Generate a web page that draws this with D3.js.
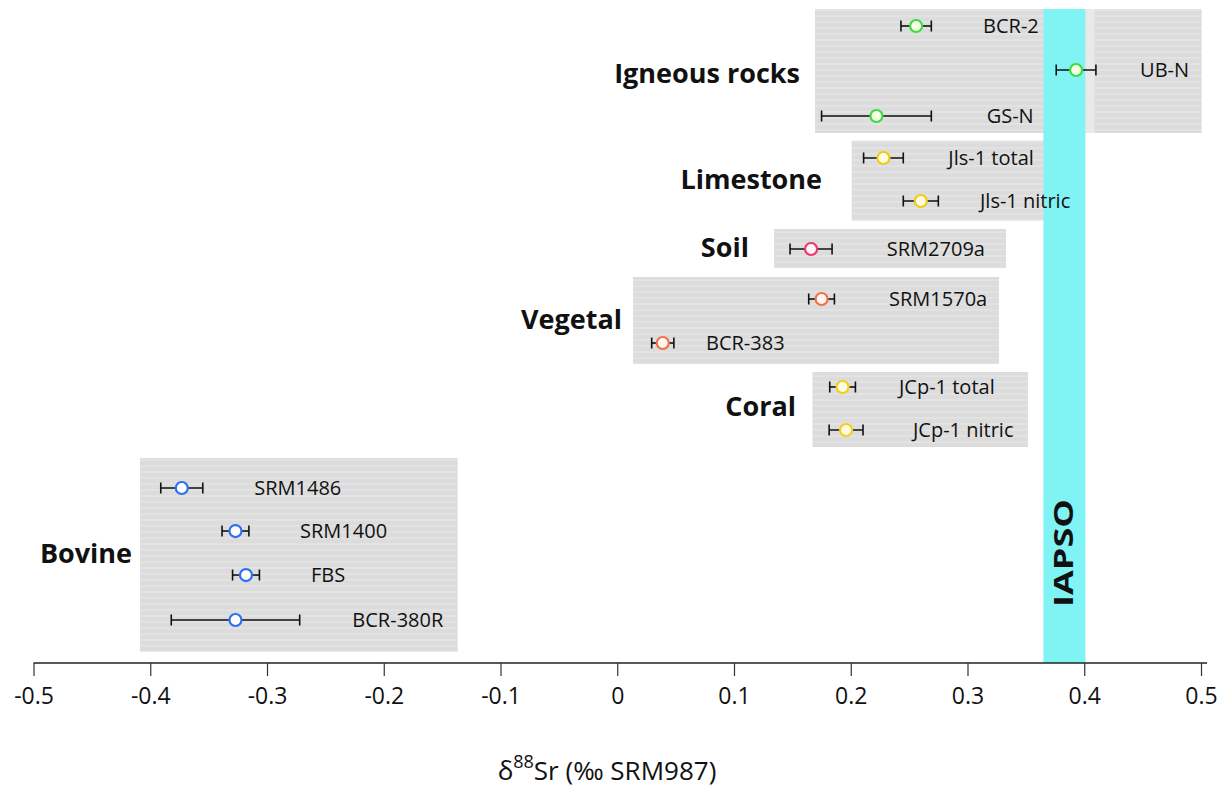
<!DOCTYPE html>
<html>
<head>
<meta charset="utf-8">
<script src="https://cdn.jsdelivr.net/npm/d3@7"></script>
<style>
  html, body { margin: 0; padding: 0; background: #fff; }
  svg { display: block; }
  text { font-family: "Open Sans", "Noto Sans", sans-serif; fill: #111; }
</style>
</head>
<body>
<svg id="chart" width="1228" height="791"></svg>
<script>
// ---------------- data ----------------
const categories = ["Igneous rocks", "Limestone", "Soil", "Vegetal", "Coral", "Bovine"];
const samples = ["BCR-2", "UB-N", "GS-N", "Jls-1 total", "Jls-1 nitric", "SRM2709a",
  "SRM1570a", "BCR-383", "JCp-1 total", "JCp-1 nitric", "SRM1486", "SRM1400", "FBS", "BCR-380R"];
const sampleCategory = ["Igneous rocks", "Igneous rocks", "Igneous rocks", "Limestone", "Limestone",
  "Soil", "Vegetal", "Vegetal", "Coral", "Coral", "Bovine", "Bovine", "Bovine", "Bovine"];
const values = [0.256, 0.393, 0.222, 0.228, 0.260, 0.166, 0.175, 0.039, 0.193, 0.196,
  -0.373, -0.327, -0.318, -0.327];
const errors = [0.013, 0.017, 0.047, 0.017, 0.015, 0.018, 0.011, 0.0095, 0.011, 0.0145,
  0.018, 0.0115, 0.0115, 0.055];
const xTicks = [-0.5, -0.4, -0.3, -0.2, -0.1, 0, 0.1, 0.2, 0.3, 0.4, 0.5];
const iapsoRange = [0.365, 0.401];
const iapsoLabel = "IAPSO";

// ---------------- layout (positions, not data) ----------------
const rowSlot = [0, 0.985, 2.015, 2.955, 3.918, 4.993, 6.113, 7.098, 8.083, 9.046,
  10.345, 11.308, 12.293, 13.3];
const labelStartX = [0.3133, 0.4478, 0.3164, 0.2836, 0.3107, 0.2309, 0.2328, 0.076,
  0.2413, 0.2533, -0.3109, -0.2717, -0.2623, -0.2269];
const boxX = [[0.1694, 0.5006], [0.2008, 0.3655], [0.1343, 0.3330], [0.0135, 0.327], [0.1672, 0.3518], [-0.4088, -0.1367]];
const boxSlot = [[-0.381, 2.396], [2.568, 4.36], [4.545, 5.419], [5.62, 7.568], [7.747, 9.427], [9.673, 14.01]];
const catLabelX = [0.1565, 0.1754, 0.1128, 0.0041, 0.1531, -0.4156];
const catLabelSlot = [1.075, 3.448, 4.971, 6.583, 8.531, 11.823];
const catStroke = ["#3edb3e", "#f0cc18", "#e8386e", "#f0704e", "#f2d01e", "#2e6ff0"];
const catFill = ["#f6ffe6", "#fffbe0", "#fff4f6", "#fff6f0", "#fffbe0", "#ffffff"];

// ---------------- drawing ----------------
const svg = d3.select("#chart");
const x = d3.scaleLinear().domain([-0.5, 0.5]).range([33.5, 1201]);
const y = d3.scaleLinear().domain([0, 13.3]).range([26, 620]);
const axisY = 663;
const catIndex = c => categories.indexOf(c);

// striped gray pattern
const defs = svg.append("defs");
const pat = defs.append("pattern").attr("id", "stripes")
  .attr("patternUnits", "userSpaceOnUse").attr("width", 8).attr("height", 6);
pat.append("rect").attr("width", 8).attr("height", 6).attr("fill", "#dcdcdc");
pat.append("rect").attr("y", 3).attr("width", 8).attr("height", 2).attr("fill", "#e2e2e2");

// category boxes
svg.append("g").selectAll("rect").data(categories).join("rect")
  .attr("x", (d, i) => x(boxX[i][0]))
  .attr("width", (d, i) => x(boxX[i][1]) - x(boxX[i][0]))
  .attr("y", (d, i) => y(boxSlot[i][0]))
  .attr("height", (d, i) => y(boxSlot[i][1]) - y(boxSlot[i][0]))
  .attr("fill", "url(#stripes)");

// IAPSO band
svg.append("rect")
  .attr("x", x(iapsoRange[0]))
  .attr("width", x(iapsoRange[1]) - x(iapsoRange[0]))
  .attr("y", y(boxSlot[0][0]))
  .attr("height", axisY - y(boxSlot[0][0]))
  .attr("fill", "#80f4f4");
// light seam right of band in the igneous box
svg.append("rect")
  .attr("x", x(iapsoRange[1]))
  .attr("width", 9)
  .attr("y", y(boxSlot[0][0]))
  .attr("height", y(boxSlot[0][1]) - y(boxSlot[0][0]))
  .attr("fill", "#e9e9e9");

svg.append("text")
  .attr("transform", `translate(${(x(iapsoRange[0]) + x(iapsoRange[1])) / 2 + 9},553) rotate(-90)`)
  .attr("text-anchor", "middle")
  .attr("font-weight", 700)
  .attr("font-size", 26)
  .attr("textLength", 108)
  .attr("lengthAdjust", "spacingAndGlyphs")
  .text(iapsoLabel);

// category labels
svg.append("g").selectAll("text").data(categories).join("text")
  .attr("x", (d, i) => x(catLabelX[i]))
  .attr("y", (d, i) => y(catLabelSlot[i]))
  .attr("dy", "0.35em")
  .attr("text-anchor", "end")
  .attr("font-weight", 700)
  .attr("font-size", 27)
  .text(d => d);

// error bars
const eb = svg.append("g").attr("stroke", "#111").attr("stroke-width", 1.6);
samples.forEach((s, i) => {
  const yy = y(rowSlot[i]);
  const x0 = x(values[i] - errors[i]), x1 = x(values[i] + errors[i]);
  eb.append("line").attr("x1", x0).attr("x2", x1).attr("y1", yy).attr("y2", yy);
  eb.append("line").attr("x1", x0).attr("x2", x0).attr("y1", yy - 5.5).attr("y2", yy + 5.5);
  eb.append("line").attr("x1", x1).attr("x2", x1).attr("y1", yy - 5.5).attr("y2", yy + 5.5);
});

// points
svg.append("g").selectAll("circle").data(samples).join("circle")
  .attr("cx", (d, i) => x(values[i]))
  .attr("cy", (d, i) => y(rowSlot[i]))
  .attr("r", 6)
  .attr("fill", (d, i) => catFill[catIndex(sampleCategory[i])])
  .attr("stroke", (d, i) => catStroke[catIndex(sampleCategory[i])])
  .attr("stroke-width", 2.2);

// sample labels
svg.append("g").selectAll("text").data(samples).join("text")
  .attr("x", (d, i) => x(labelStartX[i]))
  .attr("y", (d, i) => y(rowSlot[i]))
  .attr("dy", "0.35em")
  .attr("font-size", 20)
  .text(d => d);

// x axis
const axis = d3.axisBottom(x).tickValues(xTicks).tickSize(13).tickPadding(12)
  .tickFormat(d => d === 0 ? "0" : d3.format(".1f")(d).replace("−", "-"));
const gx = svg.append("g").attr("transform", `translate(0,${axisY})`).call(axis);
gx.select(".domain").attr("d", `M${x(-0.5)},0H${x(0.5) + 6}`).attr("stroke", "#222").attr("stroke-width", 1.6);
gx.selectAll(".tick line").attr("stroke", "#333").attr("stroke-width", 1.2);
gx.selectAll(".tick text").attr("font-size", 23).attr("font-family", "Open Sans, sans-serif").attr("fill", "#111");

// axis title
const title = svg.append("text")
  .attr("x", 607).attr("y", 780)
  .attr("text-anchor", "middle")
  .attr("font-size", 26);
title.append("tspan").text("δ");
title.append("tspan").attr("dy", -12).attr("font-size", 18).text("88");
title.append("tspan").attr("dy", 12).text("Sr (‰ SRM987)");
</script>
</body>
</html>
